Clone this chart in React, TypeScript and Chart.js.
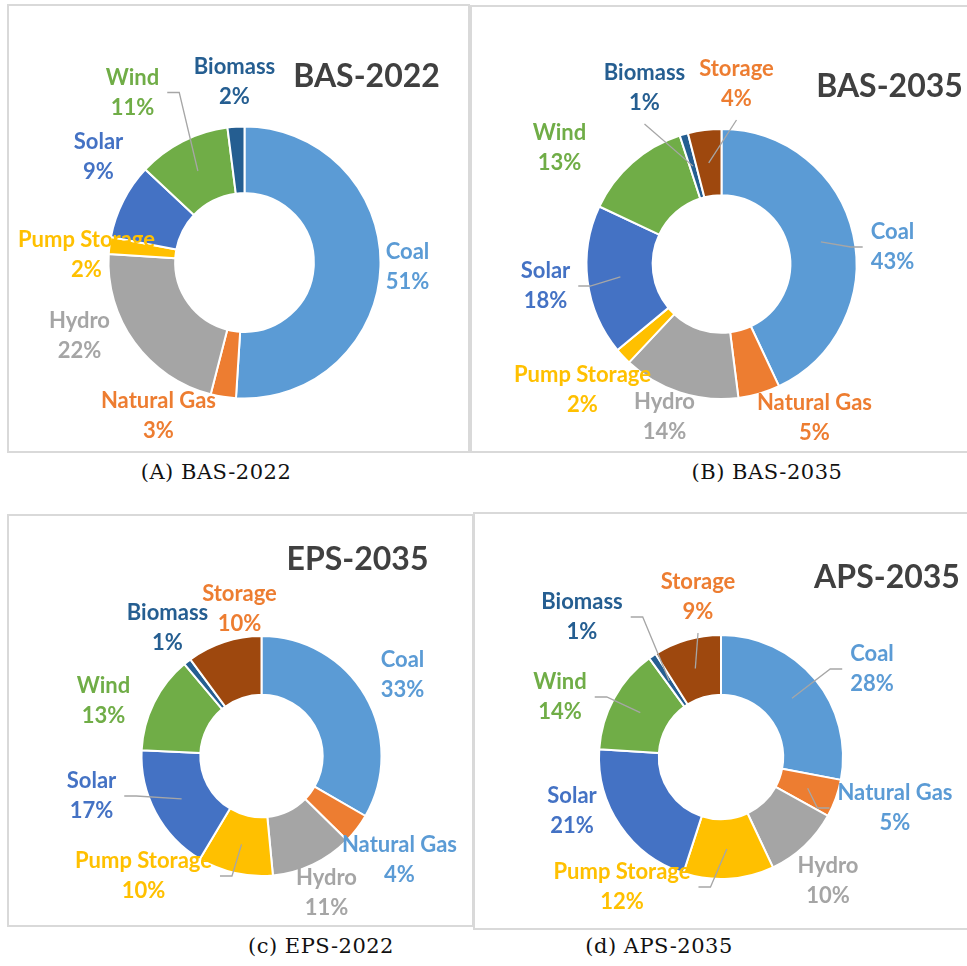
import React, { useEffect, useRef } from 'react';
import { Chart, registerables } from 'chart.js';

Chart.register(...registerables);

// ---------- data ----------
const categories = ['Coal', 'Natural Gas', 'Hydro', 'Pump Storage', 'Solar', 'Wind', 'Biomass', 'Storage'];
const bas2022Values = [51, 3, 22, 2, 9, 11, 2];
const bas2035Values = [43, 5, 14, 2, 18, 13, 1, 4];
const eps2035Values = [33, 4, 11, 10, 17, 13, 1, 10];
const aps2035Values = [28, 5, 10, 12, 21, 14, 1, 9];
const chartTitles = ['BAS-2022', 'BAS-2035', 'EPS-2035', 'APS-2035'];
const captions = ['(A) BAS-2022', '(B) BAS-2035', '(c) EPS-2022', '(d) APS-2035'];

// ---------- styles ----------
const sliceColors = ['#5B9BD5', '#ED7D31', '#A5A5A5', '#FFC000', '#4472C4', '#70AD47', '#255E91', '#9E480E'];
const labelColorsAB = ['#5B9BD5', '#ED7D31', '#A5A5A5', '#FFC000', '#4472C4', '#70AD47', '#255E91', '#ED7D31'];
const labelColorsCD = ['#5B9BD5', '#5B9BD5', '#A5A5A5', '#FFC000', '#4472C4', '#70AD47', '#255E91', '#ED7D31'];

type Panel = {
  values: number[];
  title: string;
  caption: string;
  box: { left: number; top: number; width: number; height: number };
  center: [number, number]; // relative to box
  radius: number;
  cutout: string;
  labelOffsets: [number, number][]; // label centre relative to doughnut centre
  leaders: string[]; // '', 'l', 'r', 'b'
  labelColors: string[];
  titleOffset: [number, number];
  captionPos: [number, number];
};

const panels: Panel[] = [
  {
    values: bas2022Values,
    title: chartTitles[0],
    caption: captions[0],
    box: { left: 7, top: 4, width: 463, height: 449 },
    center: [237.5, 258.5],
    radius: 136,
    cutout: '51%',
    labelOffsets: [[163, 4], [-86, 153], [-165, 73], [-158, -8], [-146, -106], [-112, -170], [-10, -181]],
    leaders: ['', '', '', '', '', 'r', ''],
    labelColors: labelColorsAB,
    titleOffset: [122, -186],
    captionPos: [216, 472],
  },
  {
    values: bas2035Values,
    title: chartTitles[1],
    caption: captions[1],
    box: { left: 470, top: 5, width: 530, height: 448 },
    center: [251.5, 259],
    radius: 135,
    cutout: '51%',
    labelOffsets: [[171, -17], [93, 154], [-57, 153], [-139, 126], [-176, 22], [-162, -116], [-77, -176], [15, -180]],
    leaders: ['l', '', '', '', 'r', '', 'b', 'b'],
    labelColors: labelColorsAB,
    titleOffset: [168, -177],
    captionPos: [767, 472],
  },
  {
    values: eps2035Values,
    title: chartTitles[2],
    caption: captions[2],
    box: { left: 7, top: 514, width: 467, height: 413 },
    center: [254.5, 242],
    radius: 120,
    cutout: '51%',
    labelOffsets: [[141, -81], [138, 104], [65, 137], [-118, 120], [-170, 40], [-158, -55], [-94, -128], [-22, -147]],
    leaders: ['', '', '', 'r', 'r', '', '', ''],
    labelColors: labelColorsCD,
    titleOffset: [96, -196],
    captionPos: [321, 946],
  },
  {
    values: aps2035Values,
    title: chartTitles[3],
    caption: captions[3],
    box: { left: 473, top: 512, width: 530, height: 418 },
    center: [248, 245],
    radius: 122,
    cutout: '51%',
    labelOffsets: [[151, -88], [174, 51], [107, 124], [-99, 130], [-149, 54], [-161, -60], [-139, -140], [-23, -160]],
    leaders: ['l', 'l', '', 'r', '', 'r', 'r', 'b'],
    labelColors: labelColorsCD,
    titleOffset: [166, -179],
    captionPos: [659, 946],
  },
];

const LABEL_FONT = 'bold 22px Lato';
const TITLE_FONT = 'bold 32px Lato';
const LINE_H = 30;

const sliceLabelPlugin = {
  id: 'sliceLabels',
  afterDatasetsDraw(chart: any, _args: any, opts: any) {
    const ctx: CanvasRenderingContext2D = chart.ctx;
    const meta = chart.getDatasetMeta(0);
    const data = chart.data.datasets[0].data as number[];
    const labels = chart.data.labels as string[];
    ctx.save();
    ctx.font = LABEL_FONT;
    ctx.textAlign = 'center';
    ctx.textBaseline = 'middle';
    let cx = 0;
    let cy = 0;
    meta.data.forEach((arc: any, i: number) => {
      const p = arc.getProps(['x', 'y', 'startAngle', 'endAngle', 'innerRadius', 'outerRadius'], true);
      cx = p.x;
      cy = p.y;
      const mid = (p.startAngle + p.endAngle) / 2;
      const rm = (p.innerRadius + p.outerRadius) / 2;
      const tx = p.x + Math.cos(mid) * rm;
      const ty = p.y + Math.sin(mid) * rm;
      const [dx, dy] = opts.offsets[i];
      const lx = p.x + dx;
      const ly = p.y + dy;
      const lines = [labels[i], `${data[i]}%`];
      const w = Math.max(...lines.map((t) => ctx.measureText(t).width));
      const mode = opts.leaders[i];
      if (mode) {
        ctx.strokeStyle = '#A6A6A6';
        ctx.lineWidth = 1.3;
        ctx.beginPath();
        if (mode === 'l') {
          const sx = lx - w / 2 - 8;
          ctx.moveTo(sx, ly);
          ctx.lineTo(sx - 12, ly);
        } else if (mode === 'r') {
          const sx = lx + w / 2 + 8;
          ctx.moveTo(sx, ly);
          ctx.lineTo(sx + 12, ly);
        } else {
          ctx.moveTo(lx, ly + 36);
        }
        ctx.lineTo(tx, ty);
        ctx.stroke();
      }
      ctx.fillStyle = opts.colors[i];
      ctx.fillText(lines[0], lx, ly - LINE_H / 2);
      ctx.fillText(lines[1], lx, ly + LINE_H / 2);
    });
    ctx.font = TITLE_FONT;
    ctx.fillStyle = '#404040';
    ctx.fillText(opts.title, cx + opts.titleOffset[0], cy + opts.titleOffset[1]);
    ctx.restore();
  },
};

function DonutPanel({ panel }: { panel: Panel }) {
  const ref = useRef<HTMLCanvasElement | null>(null);
  useEffect(() => {
    if (!ref.current) return;
    const { width: W, height: H } = panel.box;
    const [cx, cy] = panel.center;
    const padding = {
      left: Math.max(0, 2 * cx - W),
      right: Math.max(0, W - 2 * cx),
      top: Math.max(0, 2 * cy - H),
      bottom: Math.max(0, H - 2 * cy),
    };
    const n = panel.values.length;
    const chart = new Chart(ref.current, {
      type: 'doughnut',
      data: {
        labels: categories.slice(0, n),
        datasets: [
          {
            data: panel.values,
            backgroundColor: sliceColors.slice(0, n),
            borderColor: '#FFFFFF',
            borderWidth: 2,
            radius: panel.radius,
            clip: false,
          } as any,
        ],
      },
      options: {
        responsive: false,
        maintainAspectRatio: false,
        animation: false,
        events: [],
        cutout: panel.cutout,
        layout: { padding },
        plugins: {
          legend: { display: false },
          tooltip: { enabled: false },
          title: { display: false },
          sliceLabels: {
            offsets: panel.labelOffsets,
            leaders: panel.leaders,
            colors: panel.labelColors,
            title: panel.title,
            titleOffset: panel.titleOffset,
          },
        } as any,
      },
      plugins: [sliceLabelPlugin],
    });
    return () => chart.destroy();
  }, [panel]);

  const { left, top, width, height } = panel.box;
  return (
    <>
      <div
        style={{
          position: 'absolute',
          left,
          top,
          width,
          height,
          border: '2px solid #D9D9D9',
          boxSizing: 'border-box',
        }}
      />
      <canvas
        ref={ref}
        width={width}
        height={height}
        style={{ position: 'absolute', left, top, width, height }}
      />
      <div
        style={{
          position: 'absolute',
          left: panel.captionPos[0],
          top: panel.captionPos[1] - 15,
          height: 30,
          lineHeight: '30px',
          transform: 'translateX(-50%)',
          whiteSpace: 'nowrap',
          fontFamily: '"DejaVu Serif", serif',
          fontSize: 21,
          letterSpacing: '0.5px',
          color: '#111',
        }}
      >
        {panel.caption}
      </div>
    </>
  );
}

export default function App() {
  return (
    <div
      style={{
        position: 'fixed',
        left: 0,
        top: 0,
        width: 967,
        height: 966,
        overflow: 'hidden',
        background: '#FFFFFF',
      }}
    >
      {panels.map((p, i) => (
        <DonutPanel key={i} panel={p} />
      ))}
    </div>
  );
}
